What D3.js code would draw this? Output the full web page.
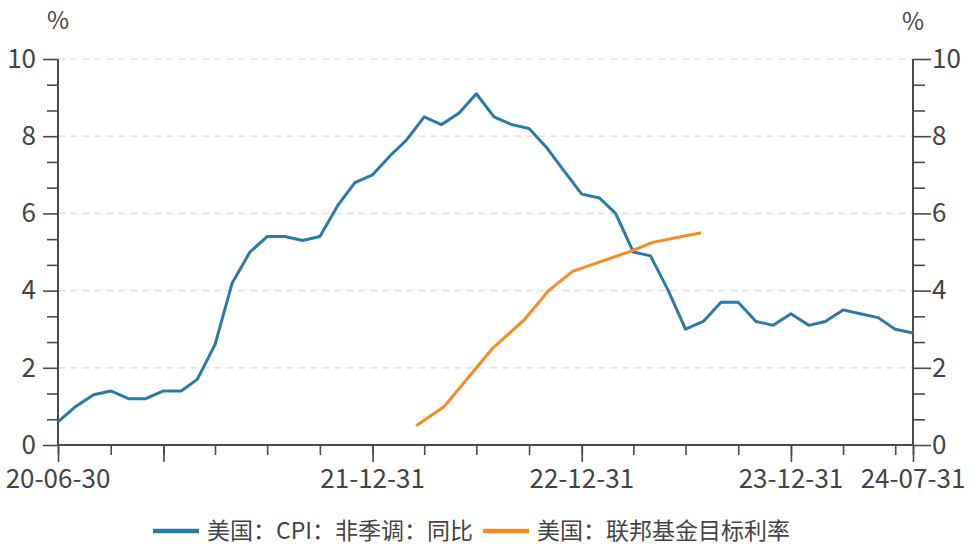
<!DOCTYPE html>
<html>
<head>
<meta charset="utf-8">
<script src="https://cdn.jsdelivr.net/npm/d3@7/dist/d3.min.js"></script>
<style>
  html, body { margin: 0; padding: 0; background: #fff; }
  svg { display: block; font-family: "Noto Sans CJK SC", "Noto Sans", sans-serif; }
</style>
</head>
<body>
<svg id="chart" width="972" height="549"></svg>
<script>
// ---- data ----
const cpiDates = [
  "2020-06-30","2020-07-31","2020-08-31","2020-09-30","2020-10-31","2020-11-30","2020-12-31",
  "2021-01-31","2021-02-28","2021-03-31","2021-04-30","2021-05-31","2021-06-30","2021-07-31",
  "2021-08-31","2021-09-30","2021-10-31","2021-11-30","2021-12-31",
  "2022-01-31","2022-02-28","2022-03-31","2022-04-30","2022-05-31","2022-06-30","2022-07-31",
  "2022-08-31","2022-09-30","2022-10-31","2022-11-30","2022-12-31",
  "2023-01-31","2023-02-28","2023-03-31","2023-04-30","2023-05-31","2023-06-30","2023-07-31",
  "2023-08-31","2023-09-30","2023-10-31","2023-11-30","2023-12-31",
  "2024-01-31","2024-02-29","2024-03-31","2024-04-30","2024-05-31","2024-06-30","2024-07-31"
];
const cpiValues = [
  0.6, 1.0, 1.3, 1.4, 1.2, 1.2, 1.4,
  1.4, 1.7, 2.6, 4.2, 5.0, 5.4, 5.4,
  5.3, 5.4, 6.2, 6.8, 7.0,
  7.5, 7.9, 8.5, 8.3, 8.6, 9.1, 8.5,
  8.3, 8.2, 7.7, 7.1, 6.5,
  6.4, 6.0, 5.0, 4.9, 4.0, 3.0, 3.2,
  3.7, 3.7, 3.2, 3.1, 3.4,
  3.1, 3.2, 3.5, 3.4, 3.3, 3.0, 2.9
];
const fedDates = [
  "2022-03-17","2022-05-05","2022-06-16","2022-07-28","2022-09-22","2022-11-03",
  "2022-12-15","2023-02-02","2023-03-23","2023-05-04","2023-07-27"
];
const fedValues = [0.5, 1.0, 1.75, 2.5, 3.25, 4.0, 4.5, 4.75, 5.0, 5.25, 5.5];

const xDomain = ["2020-06-30", "2024-07-31"];
const xTickDates = [
  "2020-06-30","2020-09-30","2020-12-31","2021-03-31","2021-06-30","2021-09-30","2021-12-31",
  "2022-03-31","2022-06-30","2022-09-30","2022-12-31","2023-03-31","2023-06-30","2023-09-30",
  "2023-12-31","2024-03-31","2024-06-30","2024-07-31"
];
const xLongTickDates = ["2020-06-30","2020-12-31","2021-12-31","2022-12-31","2023-12-31","2024-07-31"];
const xLabelDates = ["2020-06-30","2021-12-31","2022-12-31","2023-12-31","2024-07-31"];
const xLabels = ["20-06-30","21-12-31","22-12-31","23-12-31","24-07-31"];
const yMajorTicks = [0, 2, 4, 6, 8, 10];
const seriesNames = ["美国：CPI：非季调：同比", "美国：联邦基金目标利率"];
const unitLabel = "%";

// ---- layout ----
const W = 972, H = 549;
const m = { left: 58, right: 59, top: 59, bottom: 104 };
const iw = W - m.left - m.right, ih = H - m.top - m.bottom;
const colors = ["#2a7aa8", "#f78b1e"];
const axisColor = "#4a4a4a", textColor = "#444";
const tickFont = 26;

const parse = d3.timeParse("%Y-%m-%d");
const svg = d3.select("#chart");
const g = svg.append("g").attr("transform", `translate(${m.left},${m.top})`);

const x = d3.scaleTime().domain(xDomain.map(parse)).range([0, iw]);
const yL = d3.scaleLinear().domain([0, 10]).range([ih, 0]);
const yR = d3.scaleLinear().domain([0, 10]).range([ih, 0]);

// grid
g.append("g").selectAll("line").data(yMajorTicks.filter(v => v > 0)).join("line")
  .attr("x1", 0).attr("x2", iw)
  .attr("y1", d => yL(d)).attr("y2", d => yL(d))
  .attr("stroke", "#dcdcdc").attr("stroke-width", 1.2).attr("stroke-dasharray", "7,5");

const minorTicks = d3.range(0, 15).map(i => i * 2 / 3).filter(v => v <= 10.001 && Math.abs(v - Math.round(v / 2) * 2) > 0.01);

function styleAxis(sel) {
  sel.select(".domain").remove();
  sel.selectAll(".tick line").attr("stroke", axisColor).attr("stroke-width", 1.6);
  sel.selectAll("text").attr("fill", textColor).attr("font-size", tickFont)
    .attr("font-family", "'Noto Sans CJK SC', 'Noto Sans', sans-serif");
}

// left axis
g.append("g").call(d3.axisLeft(yL).tickValues(minorTicks).tickSize(11).tickFormat("")).call(styleAxis);
g.append("g").call(d3.axisLeft(yL).tickValues(yMajorTicks).tickSize(15).tickPadding(7).tickFormat(d3.format("d"))).call(styleAxis);
// right axis
const gr = g.append("g").attr("transform", `translate(${iw},0)`);
gr.append("g").call(d3.axisRight(yR).tickValues(minorTicks).tickSize(12).tickFormat("")).call(styleAxis);
gr.append("g").call(d3.axisRight(yR).tickValues(yMajorTicks).tickSize(18).tickPadding(1).tickFormat(d3.format("d"))).call(styleAxis);

// bottom axis
const gb = g.append("g").attr("transform", `translate(0,${ih})`);
gb.append("g").call(d3.axisBottom(x).tickValues(xTickDates.map(parse)).tickSize(10).tickFormat("")).call(styleAxis);
gb.append("g").call(d3.axisBottom(x).tickValues(xLongTickDates.map(parse)).tickSize(17).tickFormat("")).call(styleAxis);
gb.append("g").selectAll("text").data(xLabelDates).join("text")
  .attr("x", d => x(parse(d))).attr("y", 43)
  .attr("text-anchor", "middle")
  .attr("fill", textColor).attr("font-size", tickFont)
  .text((d, i) => xLabels[i]);

// axis lines
g.append("line").attr("x1", 0).attr("x2", 0).attr("y1", 0).attr("y2", ih).attr("stroke", axisColor).attr("stroke-width", 2);
g.append("line").attr("x1", iw).attr("x2", iw).attr("y1", 0).attr("y2", ih).attr("stroke", axisColor).attr("stroke-width", 2);
g.append("line").attr("x1", 0).attr("x2", iw).attr("y1", ih).attr("y2", ih).attr("stroke", axisColor).attr("stroke-width", 2);

// unit labels
svg.append("text").attr("x", m.left).attr("y", 29).attr("text-anchor", "middle")
  .attr("fill", textColor).attr("font-size", 24).text(unitLabel);
svg.append("text").attr("x", m.left + iw).attr("y", 30).attr("text-anchor", "middle")
  .attr("fill", textColor).attr("font-size", 24).text(unitLabel);

// lines
const cpiData = cpiDates.map((d, i) => ({ date: parse(d), v: cpiValues[i] }));
const fedData = fedDates.map((d, i) => ({ date: parse(d), v: fedValues[i] }));
const lineL = d3.line().x(d => x(d.date)).y(d => yL(d.v));
const lineR = d3.line().x(d => x(d.date)).y(d => yR(d.v));

g.append("path").datum(cpiData).attr("d", lineL).attr("fill", "none")
  .attr("stroke", colors[0]).attr("stroke-width", 3).attr("stroke-linejoin", "round");
g.append("path").datum(fedData).attr("d", lineR).attr("fill", "none")
  .attr("stroke", colors[1]).attr("stroke-width", 3).attr("stroke-linejoin", "round");

// legend
const legendY = 531;
const legendItems = [
  { x: 153, name: seriesNames[0], color: colors[0] },
  { x: 483, name: seriesNames[1], color: colors[1] }
];
const lg = svg.append("g");
legendItems.forEach(it => {
  lg.append("line").attr("x1", it.x).attr("x2", it.x + 46).attr("y1", legendY).attr("y2", legendY)
    .attr("stroke", it.color).attr("stroke-width", 4.5);
  lg.append("text").attr("x", it.x + 54).attr("y", legendY).attr("dy", "0.35em")
    .attr("fill", textColor).attr("font-size", 23).text(it.name);
});
</script>
</body>
</html>
